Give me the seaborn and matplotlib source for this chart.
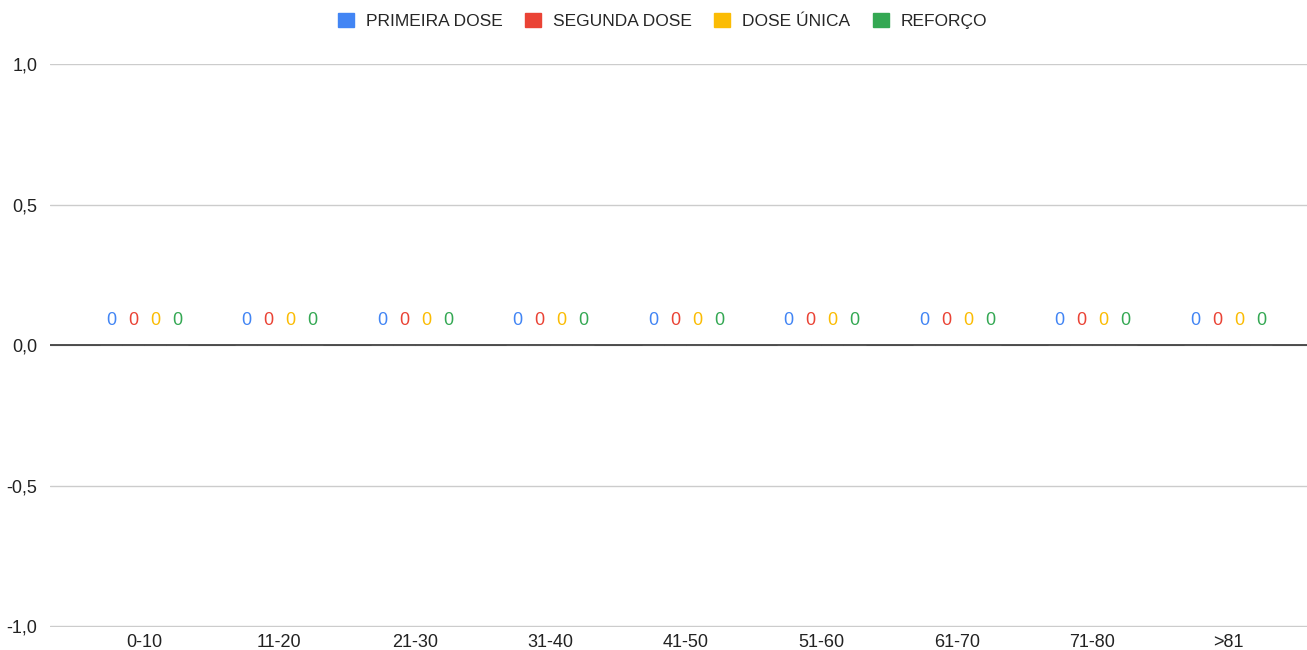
import pandas as pd
import matplotlib.pyplot as plt
import seaborn as sns

# Data
faixas = ['0-10', '11-20', '21-30', '31-40', '41-50', '51-60', '61-70', '71-80', '>81']
primeira_dose = [0, 0, 0, 0, 0, 0, 0, 0, 0]
segunda_dose = [0, 0, 0, 0, 0, 0, 0, 0, 0]
dose_unica = [0, 0, 0, 0, 0, 0, 0, 0, 0]
reforco = [0, 0, 0, 0, 0, 0, 0, 0, 0]
series = ['PRIMEIRA DOSE', 'SEGUNDA DOSE', 'DOSE ÚNICA', 'REFORÇO']
colors = ['#4285F4', '#EA4335', '#FBBC04', '#34A853']

df = pd.DataFrame({'Faixa': faixas, series[0]: primeira_dose, series[1]: segunda_dose,
                   series[2]: dose_unica, series[3]: reforco})
df = df.melt(id_vars='Faixa', var_name='Dose', value_name='Valor')

sns.set_style('white')
plt.rcParams['font.family'] = ['Liberation Sans', 'DejaVu Sans']

fig = plt.figure(figsize=(13.07, 6.5), dpi=100)
ax = fig.add_axes([50 / 1307, 1 - 627 / 650, 1 - 50 / 1307, (627 - 64) / 650])

sns.barplot(data=df, x='Faixa', y='Valor', hue='Dose', palette=colors, width=0.65,
            errorbar=None, ax=ax, legend=False)

for cont, c in zip(ax.containers, colors):
    ax.bar_label(cont, fmt='%g', padding=12, color=c, fontsize=13)

ax.set_ylim(-1.002, 1)
ax.set_xlim(-0.693, 8.583)
ax.set_yticks([-1, -0.5, 0, 0.5, 1])
ax.set_yticklabels([f'{v:.1f}'.replace('.', ',') for v in [-1, -0.5, 0, 0.5, 1]])
ax.grid(axis='y', color='#cccccc', linewidth=1)
ax.axhline(0, color='#333333', linewidth=1.2)
for s in ax.spines.values():
    s.set_visible(False)
ax.tick_params(axis='both', length=0, labelsize=13, colors='#222222')
ax.tick_params(axis='x', pad=5)
ax.tick_params(axis='y', pad=9)
ax.set_xlabel('')
ax.set_ylabel('')

handles = [plt.Rectangle((0, 0), 1, 1, color=c) for c in colors]
fig.legend(handles, series, loc='center', bbox_to_anchor=(0.507, 1 - 21 / 650), ncol=4,
           frameon=False, fontsize=12.5, handlelength=0.9, handleheight=0.9,
           columnspacing=1.3, handletextpad=0.7)

plt.savefig('out.png', dpi=100)
plt.close()
